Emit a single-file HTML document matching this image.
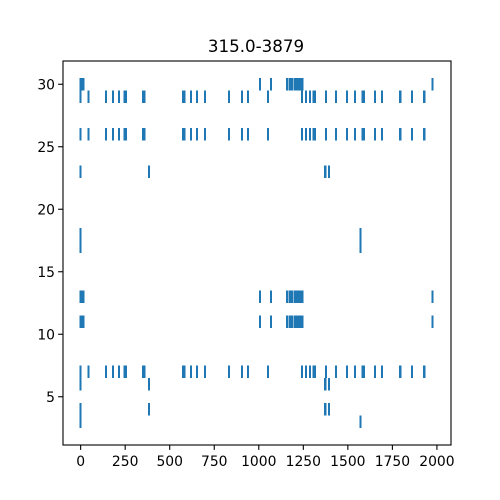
<!DOCTYPE html>
<html><head><meta charset="utf-8"><style>
html,body{margin:0;padding:0;background:#fff;}
svg{display:block;font-family:"DejaVu Sans","Liberation Sans",sans-serif;}
</style></head><body>
<svg id="chart" width="500" height="500" viewBox="0 0 500 500">
<rect x="0" y="0" width="500" height="500" fill="#fff"/>
<text x="256" y="52" font-size="16.7" text-anchor="middle" fill="#000">315.0-3879</text>
<g id="marks" shape-rendering="crispEdges"></g>
<g id="axes"></g>
</svg>
<script>
const rowA = [0, 8, 16, 1008, 1069, 1160, 1175, 1188, 1203, 1216, 1230, 1244, 1974];
const rowB = [0, 43, 142, 181, 215, 246, 254, 350, 358, 575, 584, 620, 653, 698, 833, 906, 940, 1052, 1243, 1266, 1288, 1308, 1316, 1378, 1434, 1496, 1541, 1583, 1591, 1653, 1692, 1794, 1861, 1929];
const rowD = [0, 384, 1373, 1395];
const rowE = [0, 1570];
const rowOffsets = [30, 29, 26, 23, 18, 17, 13, 11, 7, 6, 4, 3];
const rowEvents = [rowA, rowB, rowB, rowD, rowE, rowE, rowA, rowA, rowB, rowD, rowD, rowE];
const xTicks = [0, 250, 500, 750, 1000, 1250, 1500, 1750, 2000];
const yTicks = [5, 10, 15, 20, 25, 30];

const X0 = 63, X1 = 451, Y0 = 61, Y1 = 445;
const xMin = -99, xMax = 2079, yMin = 1.14, yMax = 31.86;
const sx = v => X0 + (v - xMin) / (xMax - xMin) * (X1 - X0);
const sy = v => Y1 - (v - yMin) / (yMax - yMin) * (Y1 - Y0);
const NS = "http://www.w3.org/2000/svg";
const marks = document.getElementById('marks');
const axes = document.getElementById('axes');
function mk(tag, attrs, parent) {
  const e = document.createElementNS(NS, tag);
  for (const k in attrs) e.setAttribute(k, attrs[k]);
  parent.appendChild(e);
  return e;
}
rowOffsets.forEach((off, r) => {
  rowEvents[r].forEach(v => {
    const l = mk('line', {x1: sx(v), x2: sx(v), y1: sy(off + 0.5), y2: sy(off - 0.5), stroke: '#1f77b4', 'stroke-width': 2.08}, marks);
    
    
  });
});
const frame = mk('rect', {x: X0, y: Y0, width: X1 - X0, height: Y1 - Y0, fill: 'none', stroke: '#000', 'stroke-width': 1.1}, axes);


xTicks.forEach(t => {
  const x = sx(t);
  const tk = mk('line', {x1: x, x2: x, y1: Y1, y2: Y1 + 4.9, stroke: '#000', 'stroke-width': 1.1}, axes);
  
  
  const tx = mk('text', {x: x, y: Y1 + 21, 'font-size': 13.9, 'text-anchor': 'middle', fill: '#000'}, axes);
  tx.textContent = t;
  
  
});
yTicks.forEach(t => {
  const y = sy(t);
  const tk = mk('line', {x1: X0 - 4.9, x2: X0, y1: y, y2: y, stroke: '#000', 'stroke-width': 1.1}, axes);
  
  
  const tx = mk('text', {x: X0 - 8, y: y + 5, 'font-size': 13.9, 'text-anchor': 'end', fill: '#000'}, axes);
  tx.textContent = t;
  
  
});
</script>
</body></html>
